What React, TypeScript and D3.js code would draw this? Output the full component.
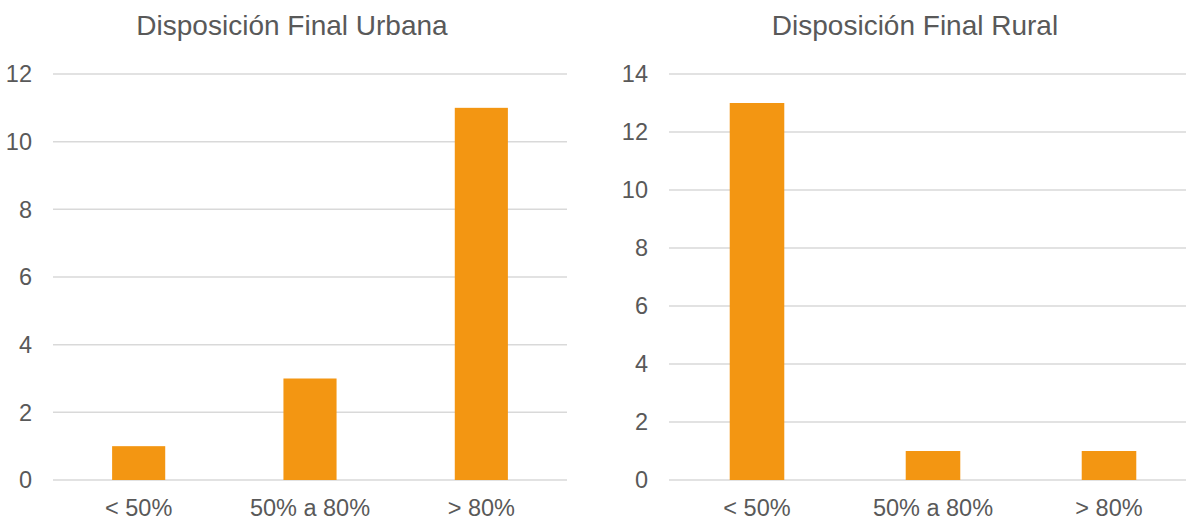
import React, { useEffect, useRef } from "react";
import * as d3 from "d3";

const categories = ["< 50%", "50% a 80%", "> 80%"];
const urbanValues = [1, 3, 11];
const ruralValues = [13, 1, 1];
const urbanTicks = [0, 2, 4, 6, 8, 10, 12];
const ruralTicks = [0, 2, 4, 6, 8, 10, 12, 14];
const urbanTitle = "Disposición Final Urbana";
const ruralTitle = "Disposición Final Rural";

const W = 1186;
const H = 518;
const BAR = "#F39612";
const GRID = "#D9D9D9";
const TXT = "#595959";
const FONT = "'Liberation Sans', Arial, sans-serif";

type Panel = {
  title: string;
  values: number[];
  ticks: number[];
  x0: number;
  x1: number;
  titleX: number;
  labelRight: number;
};

const panels: Panel[] = [
  { title: urbanTitle, values: urbanValues, ticks: urbanTicks, x0: 53, x1: 567, titleX: 292, labelRight: 32 },
  { title: ruralTitle, values: ruralValues, ticks: ruralTicks, x0: 669, x1: 1197, titleX: 915, labelRight: 648 },
];

export default function App() {
  const ref = useRef<SVGSVGElement>(null);
  useEffect(() => {
    const svg = d3.select(ref.current);
    svg.selectAll("*").remove();
    svg.append("rect").attr("width", W).attr("height", H).attr("fill", "#fff");
    const yTop = 74;
    const yBot = 480;
    panels.forEach((p) => {
      const g = svg.append("g");
      const maxT = p.ticks[p.ticks.length - 1];
      const y = d3.scaleLinear().domain([0, maxT]).range([yBot, yTop]);
      const x = d3
        .scaleBand<string>()
        .domain(categories)
        .range([p.x0, p.x1])
        .paddingInner(0.69)
        .paddingOuter(0.345);
      g.selectAll("line.grid")
        .data(p.ticks)
        .enter()
        .append("line")
        .attr("x1", p.x0)
        .attr("x2", p.x1)
        .attr("y1", (d) => y(d))
        .attr("y2", (d) => y(d))
        .attr("stroke", GRID)
        .attr("stroke-width", 1.5);
      g.selectAll("text.ytick")
        .data(p.ticks)
        .enter()
        .append("text")
        .attr("x", p.labelRight)
        .attr("y", (d) => y(d))
        .attr("dy", "0.35em")
        .attr("text-anchor", "end")
        .attr("font-family", FONT)
        .attr("font-size", 23.5)
        .attr("fill", TXT)
        .text((d) => String(d));
      g.selectAll("rect.bar")
        .data(p.values)
        .enter()
        .append("rect")
        .attr("x", (_, i) => x(categories[i])!)
        .attr("width", x.bandwidth())
        .attr("y", (d) => y(d))
        .attr("height", (d) => yBot - y(d))
        .attr("fill", BAR);
      g.selectAll("text.xtick")
        .data(categories)
        .enter()
        .append("text")
        .attr("x", (d) => x(d)! + x.bandwidth() / 2)
        .attr("y", 516)
        .attr("text-anchor", "middle")
        .attr("font-family", FONT)
        .attr("font-size", 23.5)
        .attr("fill", TXT)
        .text((d) => d);
      g.append("text")
        .attr("x", p.titleX)
        .attr("y", 35)
        .attr("text-anchor", "middle")
        .attr("font-family", FONT)
        .attr("font-size", 28)
        .attr("fill", TXT)
        .text(p.title);
    });
  }, []);
  return (
    <svg
      ref={ref}
      width={W}
      height={H}
      style={{ position: "absolute", left: 0, top: 0, display: "block" }}
    />
  );
}
